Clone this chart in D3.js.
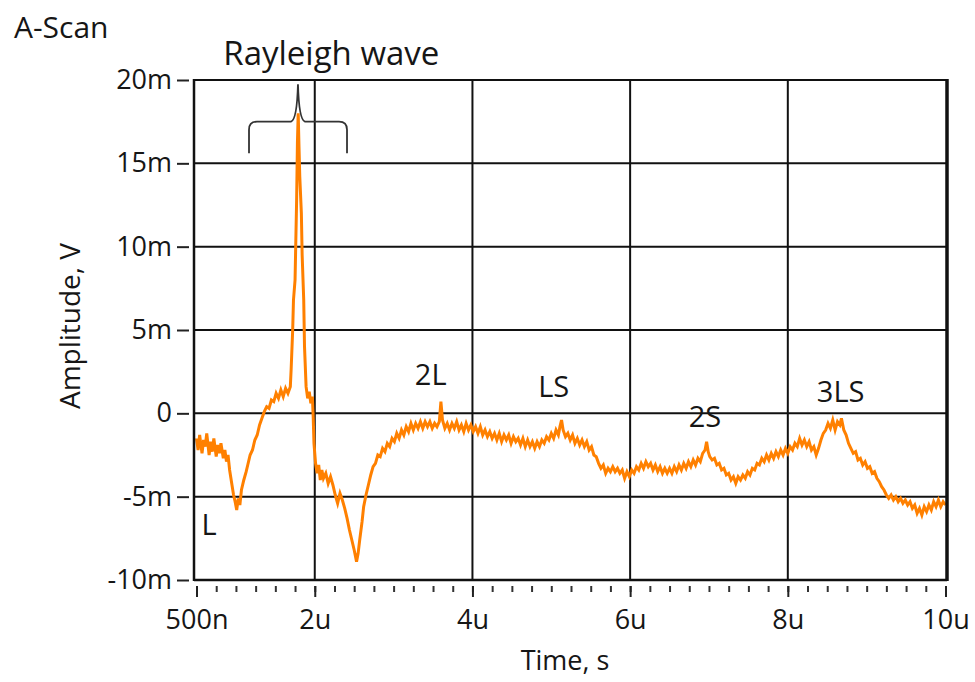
<!DOCTYPE html>
<html>
<head>
<meta charset="utf-8">
<script src="https://cdn.jsdelivr.net/npm/d3@7"></script>
<style>
  body { margin: 0; background: #fff; }
  text { font-family: "Open Sans", sans-serif; fill: #161616; }
</style>
</head>
<body>
<svg id="chart"></svg>
<script>
// axis ticks (time in microseconds, amplitude in millivolts)
const xTicks = [0.5, 2, 4, 6, 8, 10];
const xTickLabels = ['500n', '2u', '4u', '6u', '8u', '10u'];
const yTicks = [20, 15, 10, 5, 0, -5, -10];
const yTickLabels = ['20m', '15m', '10m', '5m', '0', '-5m', '-10m'];

// echo labels placed in data units
const echoNames = ['L', '2L', 'LS', '2S', '3LS'];
const echoTimes = [0.66, 3.47, 5.03, 6.95, 8.67];
const echoAmps = [-7.3, 1.7, 1.0, -0.8, 0.7];

// brace over the Rayleigh wave: left end, cusp, right end / ends, bar, tip
const braceTimes = [1.166, 1.787, 2.409];
const braceAmps = [15.6, 17.5, 19.75];

// A-scan trace: [time us, amplitude mV]
const waveform = [
  [0.50,-1.5],[0.52,-2.2],[0.54,-1.3],[0.57,-2.4],[0.59,-1.6],[0.61,-2.0],[0.63,-1.2],[0.66,-2.5],
  [0.68,-1.7],[0.70,-2.3],[0.72,-1.5],[0.75,-2.6],[0.77,-1.9],[0.79,-2.4],[0.81,-1.8],[0.84,-2.7],
  [0.86,-2.2],[0.88,-2.9],[0.90,-2.5],[0.92,-3.4],[0.95,-4.3],[0.97,-4.9],[0.99,-5.3],[1.01,-5.8],
  [1.03,-5.1],[1.05,-5.5],[1.07,-4.6],[1.10,-4.0],[1.13,-3.5],[1.15,-3.1],[1.18,-2.5],[1.21,-2.2],
  [1.24,-1.6],[1.27,-1.3],[1.30,-0.7],[1.33,-0.3],[1.36,0.1],[1.39,0.4],[1.42,0.3],[1.45,0.8],
  [1.48,0.7],[1.51,1.2],[1.54,0.9],[1.57,1.4],[1.60,1.0],[1.63,1.5],[1.66,1.2],[1.69,1.6],
  [1.70,2.6],[1.72,5.0],[1.73,6.8],[1.75,8.0],[1.76,10.4],[1.77,12.8],[1.78,16.2],[1.79,18.0],
  [1.80,16.0],[1.81,14.2],[1.83,12.0],[1.84,9.5],[1.86,6.8],[1.87,4.0],[1.89,1.6],[1.91,0.9],
  [1.93,1.3],[1.95,0.6],[1.97,1.0],[1.98,-0.2],[1.99,-1.8],[2.01,-3.0],[2.03,-3.6],[2.05,-3.1],
  [2.07,-4.0],[2.09,-3.4],[2.11,-3.9],[2.14,-3.6],[2.17,-4.2],[2.20,-3.8],[2.23,-4.3],[2.26,-4.9],
  [2.29,-5.4],[2.32,-4.8],[2.35,-5.2],[2.38,-5.7],[2.41,-6.3],[2.44,-7.0],[2.47,-7.6],[2.50,-8.2],
  [2.53,-8.9],[2.55,-8.4],[2.57,-7.6],[2.60,-6.5],[2.62,-5.6],[2.65,-4.9],[2.68,-4.3],[2.71,-3.7],
  [2.74,-3.2],[2.77,-3.0],[2.80,-2.5],[2.83,-2.6],[2.86,-2.1],[2.89,-2.3],[2.92,-1.8],[2.95,-2.0],
  [2.98,-1.5],[3.01,-1.7],[3.04,-1.2],[3.07,-1.5],[3.10,-1.0],[3.13,-1.3],[3.16,-0.8],[3.19,-1.1],
  [3.22,-0.6],[3.25,-1.0],[3.28,-0.6],[3.31,-0.9],[3.34,-0.5],[3.37,-0.9],[3.40,-0.5],[3.43,-0.8],
  [3.46,-0.5],[3.49,-0.9],[3.52,-0.6],[3.55,-0.8],[3.58,-0.5],[3.60,0.7],[3.62,-0.4],[3.65,-0.9],
  [3.68,-0.6],[3.71,-1.0],[3.74,-0.6],[3.77,-0.9],[3.80,-0.5],[3.83,-1.0],[3.86,-0.7],[3.89,-1.1],
  [3.92,-0.6],[3.95,-1.0],[3.98,-0.7],[4.01,-1.1],[4.04,-0.8],[4.07,-1.2],[4.10,-0.8],[4.13,-1.3],
  [4.16,-1.0],[4.19,-1.4],[4.22,-1.1],[4.25,-1.5],[4.28,-1.2],[4.31,-1.6],[4.34,-1.2],[4.37,-1.7],
  [4.40,-1.3],[4.43,-1.6],[4.46,-1.3],[4.49,-1.8],[4.52,-1.4],[4.55,-1.7],[4.58,-1.5],[4.61,-1.9],
  [4.64,-1.5],[4.67,-2.0],[4.70,-1.6],[4.73,-2.0],[4.76,-1.7],[4.79,-2.1],[4.82,-1.7],[4.85,-2.0],
  [4.88,-1.6],[4.91,-1.8],[4.94,-1.4],[4.97,-1.6],[5.00,-1.2],[5.03,-1.5],[5.06,-1.0],[5.09,-1.3],
  [5.11,-0.8],[5.13,-0.4],[5.15,-1.0],[5.18,-1.4],[5.21,-1.2],[5.24,-1.6],[5.27,-1.3],[5.30,-1.8],
  [5.33,-1.5],[5.36,-1.9],[5.39,-1.6],[5.42,-2.0],[5.45,-1.7],[5.48,-2.2],[5.51,-2.0],[5.54,-2.5],
  [5.57,-2.6],[5.60,-3.0],[5.63,-3.3],[5.66,-3.1],[5.69,-3.6],[5.72,-3.3],[5.75,-3.5],[5.78,-3.2],
  [5.81,-3.5],[5.84,-3.3],[5.87,-3.6],[5.90,-3.4],[5.93,-3.9],[5.96,-3.5],[5.99,-3.8],[6.02,-3.4],
  [6.05,-3.6],[6.08,-3.2],[6.11,-3.4],[6.14,-3.0],[6.17,-3.3],[6.20,-2.9],[6.23,-3.2],[6.26,-3.0],
  [6.29,-3.4],[6.32,-3.1],[6.35,-3.5],[6.38,-3.2],[6.41,-3.6],[6.44,-3.3],[6.47,-3.6],[6.50,-3.3],
  [6.53,-3.6],[6.56,-3.2],[6.59,-3.5],[6.62,-3.1],[6.65,-3.4],[6.68,-3.0],[6.71,-3.3],[6.74,-2.9],
  [6.77,-3.2],[6.80,-2.8],[6.83,-3.1],[6.86,-2.7],[6.89,-2.9],[6.92,-2.4],[6.95,-2.2],[6.97,-1.7],
  [6.99,-2.3],[7.01,-2.6],[7.04,-2.8],[7.07,-2.7],[7.10,-3.1],[7.13,-3.0],[7.16,-3.4],[7.19,-3.3],
  [7.22,-3.7],[7.25,-3.6],[7.28,-4.0],[7.31,-3.8],[7.34,-4.2],[7.37,-3.8],[7.40,-4.0],[7.43,-3.7],
  [7.46,-3.9],[7.49,-3.5],[7.52,-3.7],[7.55,-3.3],[7.58,-3.4],[7.61,-3.0],[7.64,-3.1],[7.67,-2.7],
  [7.70,-2.9],[7.73,-2.5],[7.76,-2.8],[7.79,-2.4],[7.82,-2.7],[7.85,-2.3],[7.88,-2.6],[7.91,-2.2],
  [7.94,-2.5],[7.97,-2.1],[8.00,-2.4],[8.03,-2.0],[8.06,-2.2],[8.09,-1.8],[8.12,-2.0],[8.15,-1.5],
  [8.18,-1.9],[8.21,-1.6],[8.24,-2.0],[8.27,-1.7],[8.30,-2.2],[8.33,-2.0],[8.36,-2.5],[8.39,-2.1],
  [8.42,-1.6],[8.45,-1.2],[8.48,-1.0],[8.51,-0.6],[8.54,-0.9],[8.57,-0.4],[8.60,-1.0],[8.63,-0.5],
  [8.66,-0.7],[8.68,-0.3],[8.71,-1.0],[8.74,-1.3],[8.77,-1.8],[8.80,-2.1],[8.83,-2.4],[8.86,-2.3],
  [8.89,-2.8],[8.92,-2.7],[8.95,-3.1],[8.98,-2.9],[9.01,-3.3],[9.04,-3.2],[9.07,-3.6],[9.10,-3.5],
  [9.13,-3.9],[9.16,-4.1],[9.19,-4.4],[9.22,-4.6],[9.25,-4.9],[9.28,-5.1],[9.31,-4.9],[9.34,-5.2],
  [9.37,-5.0],[9.40,-5.3],[9.43,-5.1],[9.46,-5.4],[9.49,-5.2],[9.52,-5.5],[9.55,-5.3],[9.58,-5.7],
  [9.61,-5.5],[9.64,-6.0],[9.67,-5.7],[9.70,-6.1],[9.73,-5.6],[9.76,-5.9],[9.79,-5.5],[9.82,-5.8],
  [9.85,-5.3],[9.88,-5.6],[9.91,-5.2],[9.94,-5.6],[9.97,-5.3],[10.0,-5.5]
];

const width = 975, height = 682;
const svg = d3.select('#chart').attr('width', width).attr('height', height);

const xs = d3.scaleLinear().domain([0.5, 10]).range([196.5, 945.5]);
const ys = d3.scaleLinear().domain([-10, 20]).range([580, 80]);
const frameLeft = 194, frameRight = 947;
const frameTop = ys(20), frameBottom = ys(-10);

// grid
svg.append('g')
    .selectAll('line')
    .data(yTicks.filter(v => v > -10 && v < 20))
    .enter()
    .append('line')
    .attr('x1', frameLeft).attr('x2', frameRight)
    .attr('y1', d => ys(d)).attr('y2', d => ys(d))
    .attr('stroke', '#111').attr('stroke-width', 2);

svg.append('g')
    .selectAll('line')
    .data(xTicks.filter(t => t > 0.5 && t < 10))
    .enter()
    .append('line')
    .attr('x1', d => xs(d)).attr('x2', d => xs(d))
    .attr('y1', frameTop).attr('y2', frameBottom)
    .attr('stroke', '#111').attr('stroke-width', 2);

// trace
svg.append('path')
    .datum(waveform)
    .attr('fill', 'none')
    .attr('stroke', '#ff8000')
    .attr('stroke-width', 3)
    .attr('d', d3.line().x(d => xs(d[0])).y(d => ys(d[1])));

// frame
const frame = svg.append('g').attr('stroke', '#111');
frame.append('line').attr('x1', frameLeft).attr('x2', frameLeft).attr('y1', frameTop - 1).attr('y2', frameBottom + 1).attr('stroke-width', 2.5);
frame.append('line').attr('x1', frameLeft).attr('x2', frameRight).attr('y1', frameTop).attr('y2', frameTop).attr('stroke-width', 2);
frame.append('line').attr('x1', frameLeft).attr('x2', frameRight).attr('y1', frameBottom).attr('y2', frameBottom).attr('stroke-width', 2.5);
frame.append('line').attr('x1', frameRight).attr('x2', frameRight).attr('y1', frameTop - 1).attr('y2', frameBottom + 1).attr('stroke-width', 3.5);

// y axis, ticks sit just left of the frame
const yAxis = svg.append('g')
    .attr('transform', 'translate(189,0)')
    .call(d3.axisLeft(ys).tickValues(yTicks).tickSize(12).tickPadding(5)
        .tickFormat((d, i) => yTickLabels[i]));
yAxis.select('.domain').remove();
yAxis.selectAll('line').attr('stroke', '#222').attr('stroke-width', 2);
yAxis.selectAll('text').attr('font-size', 27).attr('fill', '#161616').attr('font-family', '"Open Sans", sans-serif');

// x axis: minor ticks every 250n, labelled majors
const xMinor = svg.append('g')
    .attr('transform', 'translate(0,586)')
    .call(d3.axisBottom(xs).tickValues(d3.range(0.5, 10.01, 0.25)).tickSize(6).tickFormat(''));
xMinor.select('.domain').remove();
xMinor.selectAll('line').attr('stroke', '#333').attr('stroke-width', 2);

const xAxis = svg.append('g')
    .attr('transform', 'translate(0,586)')
    .call(d3.axisBottom(xs).tickValues(xTicks).tickSize(11).tickPadding(13)
        .tickFormat((d, i) => xTickLabels[i]));
xAxis.select('.domain').remove();
xAxis.selectAll('line').attr('stroke', '#222').attr('stroke-width', 2);
xAxis.selectAll('text').attr('font-size', 27).attr('fill', '#161616').attr('font-family', '"Open Sans", sans-serif');

// titles
svg.append('text').attr('x', 14).attr('y', 38).attr('font-size', 30).text('A-Scan');
svg.append('text').attr('x', 565).attr('y', 670).attr('text-anchor', 'middle').attr('font-size', 27).text('Time, s');
svg.append('text')
    .attr('transform', 'translate(80,326) rotate(-90)')
    .attr('text-anchor', 'middle').attr('font-size', 28)
    .text('Amplitude, V');

// brace + Rayleigh label
const [bl, bc, br] = braceTimes.map(xs);
const [yEnd, yBar, yTip] = braceAmps.map(ys);
const brace = d3.path();
brace.moveTo(bl, yEnd);
brace.lineTo(bl, yBar + 8);
brace.quadraticCurveTo(bl, yBar, bl + 8, yBar);
brace.lineTo(bc - 7, yBar);
brace.quadraticCurveTo(bc - 1, yBar - 2, bc, yTip);
brace.quadraticCurveTo(bc + 1, yBar - 2, bc + 7, yBar);
brace.lineTo(br - 8, yBar);
brace.quadraticCurveTo(br, yBar, br, yBar + 8);
brace.lineTo(br, yEnd);
svg.append('path').attr('d', brace.toString())
    .attr('fill', 'none').attr('stroke', '#333').attr('stroke-width', 1.8);

svg.append('text').attr('x', xs(2.21)).attr('y', 65).attr('text-anchor', 'middle')
    .attr('font-size', 33).text('Rayleigh wave');

svg.append('g')
    .selectAll('text')
    .data(echoNames)
    .enter()
    .append('text')
    .attr('x', (d, i) => xs(echoTimes[i]))
    .attr('y', (d, i) => ys(echoAmps[i]))
    .attr('text-anchor', 'middle')
    .attr('font-size', 29)
    .text(d => d);
</script>
</body>
</html>
